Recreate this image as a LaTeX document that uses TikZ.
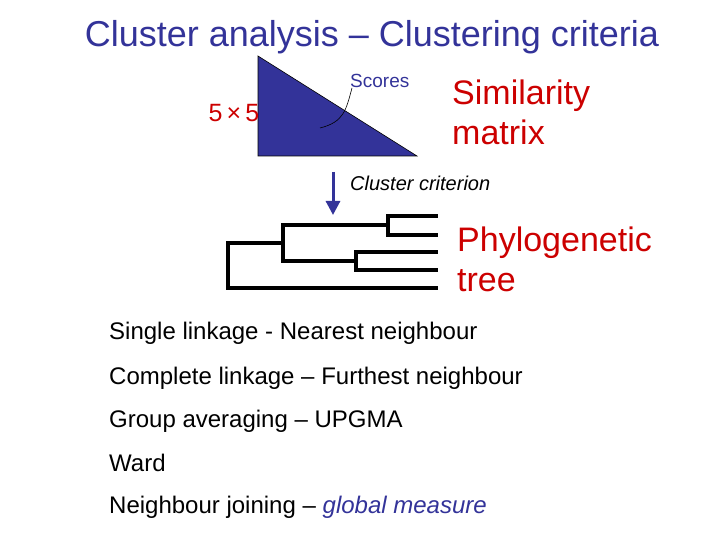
\documentclass[tikz,border=0pt]{standalone}
\usepackage{fontspec}
\setmainfont{Liberation Sans}
\usetikzlibrary{arrows.meta}
\definecolor{navy}{HTML}{333399}
\definecolor{redtxt}{HTML}{CC0000}
\begin{document}
\begin{tikzpicture}[x=1pt,y=-1pt,
  lbl/.style={anchor=west, inner sep=0pt, font=\fontsize{24}{28}\selectfont},
  big/.style={anchor=west, inner sep=0pt, align=left, text=redtxt, font=\fontsize{34}{40}\selectfont},
  tree/.style={line width=3.5pt, line cap=rect}]
\useasboundingbox (0,0) rectangle (720,540);
% title
\node[anchor=center, inner sep=0pt, text=navy, font=\fontsize{36}{42}\selectfont] (title) at (372,37) {Cluster analysis -- Clustering criteria};
% triangle matrix
\fill[navy, draw=black, line width=0.6pt] (258,56) -- (258,156) -- (417,156) -- cycle;
\node[anchor=west, inner sep=0pt, text=navy, font=\fontsize{19}{22}\selectfont] (scores) at (350,81) {Scores};
\coordinate (sc) at (352,88);
\coordinate (tin) at (320,128);
\draw[black, line width=0.6pt] (sc) .. controls (346,110) and (344,122) .. (tin);
\node[anchor=center, inner sep=0pt, text=redtxt, font=\fontsize{25}{30}\selectfont] (size) at (234,113) {5\,×\,5};
\node[big] (sim) at (452,112) {Similarity\\matrix};
% arrow
\coordinate (a1) at (333,172);
\coordinate (a2) at (333,215);
\draw[navy, line width=3pt, -{Triangle[length=14pt,width=14pt]}] (a1) -- (a2);
\node[anchor=west, inner sep=0pt, font=\itshape\fontsize{20}{24}\selectfont] (crit) at (350,183) {Cluster criterion};
% tree
\draw[tree] (436,216) -- (388,216) -- (388,235) -- (436,235);
\draw[tree] (436,252) -- (356,252) -- (356,270) -- (436,270);
\draw[tree] (388,225) -- (283,225) -- (283,261) -- (356,261);
\draw[tree] (283,243) -- (228,243) -- (228,288) -- (436,288);
\node[big] (phy) at (457,259) {Phylogenetic\\tree};
% criteria list
\node[lbl] (l1) at (109,333) {Single linkage - Nearest neighbour};
\node[lbl] (l2) at (109,378) {Complete linkage -- Furthest neighbour};
\node[lbl] (l3) at (109,421) {Group averaging -- UPGMA};
\node[lbl] (l4) at (109,463) {Ward};
\node[lbl] (l5) at (109,507) {Neighbour joining -- {\color{navy}\itshape global measure}};
\end{tikzpicture}
\end{document}
